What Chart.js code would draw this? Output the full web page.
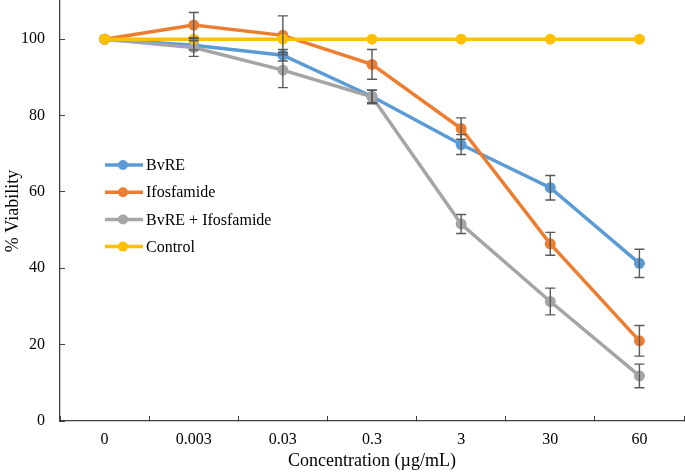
<!DOCTYPE html>
<html>
<head>
<meta charset="utf-8">
<script src="https://cdn.jsdelivr.net/npm/chart.js@4/dist/chart.umd.min.js"></script>
<style>
  html, body { margin: 0; padding: 0; background: #fff; }
  #wrap { width: 685px; height: 473px; }
</style>
</head>
<body>
<div id="wrap"><canvas id="chart"></canvas></div>
<script>
// concentrations (µg/mL)
const concentrations = ['0', '0.003', '0.03', '0.3', '3', '30', '60'];

const bvre = [100, 98.4, 95.8, 85.0, 72.4, 61.1, 41.3];
const bvreErr = [0, 1.2, 1.5, 1.6, 2.6, 3.2, 3.7];

const ifosfamide = [100, 103.7, 101.0, 93.4, 76.6, 46.4, 21.0];
const ifosfamideErr = [0, 3.3, 5.1, 3.9, 2.8, 3.0, 4.0];

const combo = [100, 97.8, 91.9, 84.9, 51.6, 31.3, 11.8];
const comboErr = [0, 2.3, 4.6, 1.8, 2.5, 3.5, 3.1];

const control = [100, 100, 100, 100, 100, 100, 100];

const yTicks = [0, 20, 40, 60, 80, 100];

const serif = "'Liberation Serif', 'Times New Roman', serif";
const axisColor = '#404040';

// draws the error bars through the y scale
const errorBars = {
    id: 'errorBars',
    afterDatasetsDraw(chart) {
        const ctx = chart.ctx;
        const y = chart.scales.y;
        ctx.save();
        ctx.strokeStyle = '#595959';
        ctx.lineWidth = 1.4;
        chart.data.datasets.forEach((ds, di) => {
            if (!ds.errors) return;
            const meta = chart.getDatasetMeta(di);
            meta.data.forEach((pt, i) => {
                const e = ds.errors[i];
                if (!e) return;
                const top = y.getPixelForValue(ds.data[i] + e);
                const bot = y.getPixelForValue(ds.data[i] - e);
                const x = pt.x;
                ctx.beginPath();
                ctx.moveTo(x, top); ctx.lineTo(x, bot);
                ctx.moveTo(x - 5, top); ctx.lineTo(x + 5, top);
                ctx.moveTo(x - 5, bot); ctx.lineTo(x + 5, bot);
                ctx.stroke();
            });
        });
        ctx.restore();
    }
};

// legend inside the plot area, Excel style
const insideLegend = {
    id: 'insideLegend',
    afterDraw(chart) {
        const ctx = chart.ctx;
        const x0 = 105, rowH = 27.2, y0 = 165;
        ctx.save();
        ctx.font = '16px ' + serif;
        ctx.textBaseline = 'middle';
        chart.data.datasets.forEach((ds, i) => {
            const yy = y0 + i * rowH;
            ctx.strokeStyle = ds.borderColor;
            ctx.lineWidth = 3.5;
            ctx.beginPath();
            ctx.moveTo(x0, yy); ctx.lineTo(x0 + 38, yy);
            ctx.stroke();
            ctx.fillStyle = ds.borderColor;
            ctx.beginPath();
            ctx.arc(x0 + 18, yy, 5, 0, Math.PI * 2);
            ctx.fill();
            ctx.fillStyle = '#000';
            ctx.fillText(ds.label, x0 + 41, yy + 1);
        });
        ctx.restore();
    }
};

function series(label, data, errors, color, order) {
    return {
        label: label,
        data: data,
        errors: errors,
        borderColor: color,
        backgroundColor: color,
        pointBackgroundColor: color,
        pointBorderColor: color,
        pointBorderWidth: 0,
        pointRadius: 5.5,
        pointHoverRadius: 5.5,
        borderWidth: 3.5,
        tension: 0,
        clip: false,
        order: order
    };
}

new Chart(document.getElementById('chart'), {
    type: 'line',
    data: {
        labels: concentrations,
        datasets: [
            series('BvRE', bvre, bvreErr, '#5B9BD5', 3),
            series('Ifosfamide', ifosfamide, ifosfamideErr, '#ED7D31', 2),
            series('BvRE + Ifosfamide', combo, comboErr, '#A5A5A5', 1),
            series('Control', control, null, '#FFC000', 0)
        ]
    },
    options: {
        responsive: true,
        maintainAspectRatio: false,
        animation: false,
        layout: {
            autoPadding: false,
            padding: { top: 1, right: 1, left: 0, bottom: 0 }
        },
        plugins: {
            legend: { display: false },
            tooltip: { enabled: false }
        },
        scales: {
            x: {
                offset: true,
                grid: {
                    offset: true,
                    drawOnChartArea: false,
                    drawTicks: true,
                    tickLength: -5,
                    color: axisColor
                },
                border: { display: true, color: axisColor, width: 1.3 },
                ticks: {
                    color: '#000',
                    font: { family: serif, size: 16 },
                    padding: 14,
                    maxRotation: 0
                },
                title: {
                    display: true,
                    text: 'Concentration (µg/mL)',
                    color: '#000',
                    font: { family: serif, size: 18 },
                    padding: { top: 0, bottom: 1 }
                },
                afterFit(scale) {
                    scale.height = 52;
                    scale.paddingLeft = 0;
                    scale.paddingRight = 0;
                }
            },
            y: {
                min: 0,
                max: 110,
                grid: {
                    drawOnChartArea: false,
                    drawTicks: true,
                    tickLength: -5,
                    color: axisColor
                },
                border: { display: true, color: axisColor, width: 1.3 },
                ticks: {
                    stepSize: 20,
                    color: '#000',
                    font: { family: serif, size: 16 },
                    padding: 20
                },
                afterBuildTicks(scale) {
                    scale.ticks = yTicks.map(v => ({ value: v }));
                },
                title: {
                    display: true,
                    text: '% Viability',
                    color: '#000',
                    font: { family: serif, size: 18 },
                    padding: { top: 2, bottom: 0 }
                },
                afterFit(scale) {
                    scale.width = 60;
                    scale.paddingTop = 0;
                    scale.paddingBottom = 0;
                }
            }
        }
    },
    plugins: [errorBars, insideLegend]
});
</script>
</body>
</html>
